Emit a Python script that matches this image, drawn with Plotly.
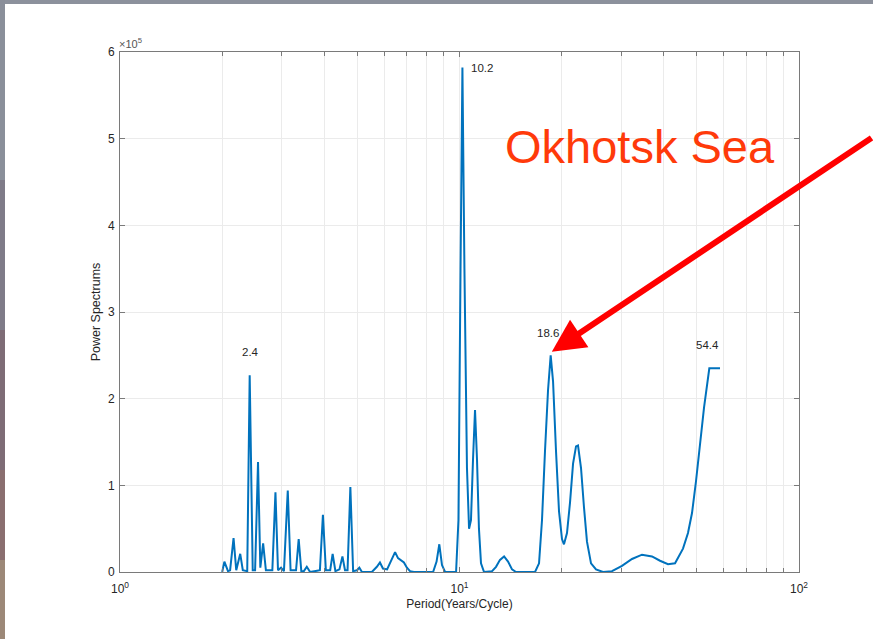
import plotly.graph_objects as go
import numpy as np

# ---- data ----
period = [2.00, 2.03, 2.08, 2.11, 2.16, 2.20, 2.26, 2.30, 2.37, 2.41,
          2.46, 2.50, 2.55, 2.59, 2.64, 2.69, 2.81, 2.87, 2.92, 2.98,
          3.04, 3.12, 3.18, 3.30, 3.36, 3.42, 3.48, 3.55, 3.63, 3.88,
          3.96, 4.04, 4.16, 4.23, 4.31, 4.43, 4.52, 4.60, 4.68, 4.77,
          4.86, 4.99, 5.07, 5.16, 5.52, 5.71, 5.83, 5.95, 6.12, 6.28,
          6.46, 6.59, 6.73, 6.86, 7.00, 7.15, 7.34, 8.36, 8.56, 8.72,
          8.88, 9.07, 9.77, 9.93, 10.07, 10.20, 10.34, 10.52, 10.67, 10.81,
          10.96, 11.11, 11.26, 11.41, 11.57, 11.81, 12.47, 12.81, 13.16, 13.53,
          13.90, 14.28, 14.67, 16.69, 17.15, 17.50, 17.86, 18.23, 18.56, 18.86,
          19.24, 19.64, 20.04, 20.31, 20.73, 21.16, 21.60, 22.04, 22.34, 22.80,
          23.26, 23.74, 24.40, 25.24, 26.47, 28.13, 30.10, 32.22, 34.48, 36.90,
          38.96, 41.13, 43.14, 45.53, 47.10, 48.40, 49.74, 51.11, 52.52, 54.43,
          58.52]

power_x1e5 = [0.00, 0.12, 0.01, 0.02, 0.39, 0.02, 0.21, 0.02, 0.01, 2.27,
              0.02, 0.02, 1.27, 0.05, 0.33, 0.02, 0.02, 0.92, 0.02, 0.05,
              0.01, 0.94, 0.02, 0.02, 0.38, 0.01, 0.01, 0.06, 0.00, 0.02,
              0.66, 0.02, 0.02, 0.21, 0.01, 0.03, 0.18, 0.02, 0.02, 0.98,
              0.01, 0.02, 0.05, 0.00, 0.00, 0.06, 0.11, 0.04, 0.03, 0.12,
              0.23, 0.16, 0.13, 0.11, 0.05, 0.01, 0.00, 0.00, 0.12, 0.32,
              0.08, 0.00, 0.00, 0.60, 3.50, 5.82, 3.50, 1.20, 0.50, 0.60,
              1.30, 1.87, 1.30, 0.50, 0.10, 0.00, 0.01, 0.06, 0.14, 0.18,
              0.12, 0.03, 0.00, 0.00, 0.10, 0.60, 1.40, 2.10, 2.50, 2.20,
              1.40, 0.70, 0.38, 0.32, 0.45, 0.80, 1.25, 1.45, 1.46, 1.20,
              0.75, 0.35, 0.10, 0.03, 0.00, 0.01, 0.07, 0.15, 0.20, 0.18,
              0.13, 0.09, 0.10, 0.27, 0.45, 0.68, 1.05, 1.45, 1.90, 2.35,
              2.35]

peak_labels = ["2.4", "10.2", "18.6", "54.4"]
peak_periods = [2.41, 10.20, 18.56, 54.43]
peak_powers = [2.27, 5.82, 2.50, 2.35]

y_ticks = [0, 1, 2, 3, 4, 5, 6]
y_ticktext = ["0", "1", "2", "3", "4", "5", "6"]
x_major = [1, 10, 100]
x_major_text = ["10<sup>0</sup>", "10<sup>1</sup>", "10<sup>2</sup>"]
x_minor = [2, 3, 4, 5, 6, 7, 8, 9, 20, 30, 40, 50, 60, 70, 80, 90]

arrow_target = (18.7, 2.54)
region_label = "Okhotsk Sea"

FONT = "Liberation Sans, Arial, sans-serif"
AXC = "#262626"
LINEC = "#7a7a7a"
GRIDC = "#ebebeb"

fig = go.Figure()
fig.add_trace(go.Scatter(
    x=period, y=power_x1e5, mode="lines",
    line=dict(color="#0072BD", width=2),
    showlegend=False, hoverinfo="skip"))

axis_common = dict(
    showline=True, linecolor=LINEC, linewidth=1, mirror="allticks",
    ticks="inside", ticklen=5, tickcolor=LINEC, tickwidth=1,
    showgrid=True, gridcolor=GRIDC, gridwidth=1, zeroline=False,
    tickfont=dict(family=FONT, size=12, color=AXC),
)

fig.update_xaxes(type="log", range=[0, 2], tickmode="array",
                 tickvals=x_major, ticktext=x_major_text,
                 ticklabelstandoff=6,
                 minor=dict(tickvals=x_minor, ticks="inside", ticklen=4,
                            tickcolor=LINEC, showgrid=True, gridcolor=GRIDC,
                            gridwidth=1),
                 title=dict(text="Period(Years/Cycle)", standoff=4,
                            font=dict(family=FONT, size=12, color=AXC)),
                 **axis_common)
fig.update_yaxes(range=[0, 6], tickmode="array",
                 tickvals=y_ticks, ticktext=y_ticktext,
                 ticklabelstandoff=2,
                 title=dict(text="Power Spectrums", standoff=4,
                            font=dict(family=FONT, size=12.5, color=AXC)),
                 **axis_common)

annotations = []
shifts = [(1, 23, "center"), (7, 0, "left"), (-3, 22, "center"), (-2, 23, "center")]
for lab, px, py, (xs, ys, xa) in zip(peak_labels, peak_periods, peak_powers, shifts):
    annotations.append(dict(x=np.log10(px), y=py, xref="x", yref="y", text=lab,
                            showarrow=False, xanchor=xa, yanchor="middle",
                            xshift=xs, yshift=ys,
                            font=dict(family=FONT, size=11.5, color=AXC)))

annotations.append(dict(x=0, y=1, xref="paper", yref="paper",
                        text="\u00d710<sup>5</sup>", showarrow=False,
                        xanchor="left", yanchor="bottom", xshift=-3, yshift=0,
                        font=dict(family=FONT, size=11, color="#555555")))

annotations.append(dict(x=(503 - 120) / 679, y=(572 - 146) / 520,
                        xref="paper", yref="paper", text=region_label,
                        showarrow=False, xanchor="left", yanchor="middle",
                        font=dict(family=FONT, size=47, color="#FF3A0A")))

annotations.append(dict(x=np.log10(arrow_target[0]), y=arrow_target[1],
                        xref="x", yref="y", text="", showarrow=True,
                        ax=330, ay=-215, arrowhead=2, arrowsize=1.1,
                        arrowwidth=6, arrowcolor="#FF0000"))


def px2paper_x(px):
    return (px - 120) / 679


def px2paper_y(py):
    return (572 - py) / 520


shapes = []
# slide border strips
shapes.append(dict(type="rect", xref="paper", yref="paper",
                   x0=px2paper_x(0), x1=px2paper_x(873), y0=px2paper_y(4), y1=px2paper_y(0),
                   fillcolor="#8c919c", line=dict(width=0), layer="below"))
left_cols = [("#8a8f9a", 0, 180), ("#7f7b88", 180, 330), ("#7e6c76", 330, 470),
             ("#8a6f70", 470, 560), ("#9c8878", 560, 639)]
for c, a, b in left_cols:
    shapes.append(dict(type="rect", xref="paper", yref="paper",
                       x0=px2paper_x(0), x1=px2paper_x(5), y0=px2paper_y(b), y1=px2paper_y(a),
                       fillcolor=c, line=dict(width=0), layer="below"))

fig.update_layout(
    width=873, height=639, autosize=False,
    margin=dict(l=120, r=74, t=52, b=67),
    paper_bgcolor="white", plot_bgcolor="white",
    annotations=annotations, shapes=shapes,
    font=dict(family=FONT, color=AXC),
)

fig.write_html("out.html")
